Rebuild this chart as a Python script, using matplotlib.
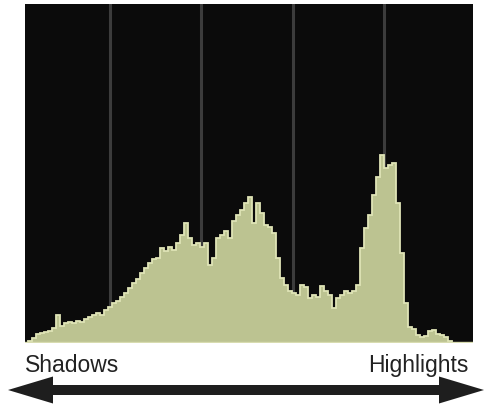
import numpy as np
import matplotlib.pyplot as plt
from matplotlib.patches import FancyArrow

# histogram heights, one value per tonal bin
counts = [2, 5, 9, 10, 11, 12, 15, 28, 17, 20, 21, 20, 22, 21, 24, 26, 28, 30,
          28, 33, 36, 40, 42, 46, 50, 55, 60, 64, 70, 75, 80, 84, 85, 95, 92, 96,
          93, 100, 108, 120, 105, 98, 100, 96, 100, 78, 85, 105, 108, 112, 105,
          122, 128, 133, 140, 146, 120, 140, 130, 118, 116, 110, 85, 65, 58, 52,
          50, 48, 58, 56, 45, 48, 46, 57, 52, 48, 35, 45, 48, 52, 50, 52, 58, 95,
          115, 128, 148, 166, 188, 175, 178, 180, 140, 90, 40, 16, 14, 8, 6, 7,
          12, 13, 9, 8, 6, 2]
grid_pos = [20.5, 43.25, 66.25, 89]
left_label = "Shadows"
right_label = "Highlights"

W, H = 484, 404
fig = plt.figure(figsize=(W / 100, H / 100), dpi=100)
fig.patch.set_facecolor("white")

ax = fig.add_axes([25 / W, (H - 343) / H, 448 / W, 339 / H])
ax.set_facecolor("#0b0b0b")
edges = np.arange(len(counts) + 1)
for g in grid_pos:
    ax.axvline(g, color="#3c3c3c", lw=2.2, zorder=1)
ax.stairs(counts, edges, fill=True, color="#bcc391", zorder=2)
ax.stairs(counts, edges, color="#dfe4b6", lw=1.3, zorder=3)
ax.axhline(1, color="#d8dcb0", lw=1, zorder=3)
ax.set_xlim(-0.75, 111.25)
ax.set_ylim(0, 339)
ax.set_xticks([])
ax.set_yticks([])
for s in ax.spines.values():
    s.set_visible(False)

fam = ["Liberation Sans", "DejaVu Sans"]
fig.text(25 / W, 1 - 372 / H, left_label, ha="left", va="baseline",
         fontsize=16.5, color="#222222", family=fam)
fig.text(468 / W, 1 - 372 / H, right_label, ha="right", va="baseline",
         fontsize=16.5, color="#222222", family=fam)

# double-headed arrow in pixel coordinates
ov = fig.add_axes([0, 0, 1, 1])
ov.set_xlim(0, W)
ov.set_ylim(H, 0)
ov.axis("off")
ov.patch.set_alpha(0)
for dx in (-238, 238):
    ov.add_patch(FancyArrow(246, 390, dx, 0, width=10, head_width=27,
                            head_length=45, length_includes_head=True,
                            color="#1e1e1e", lw=0))

fig.savefig("out.png", dpi=100)
